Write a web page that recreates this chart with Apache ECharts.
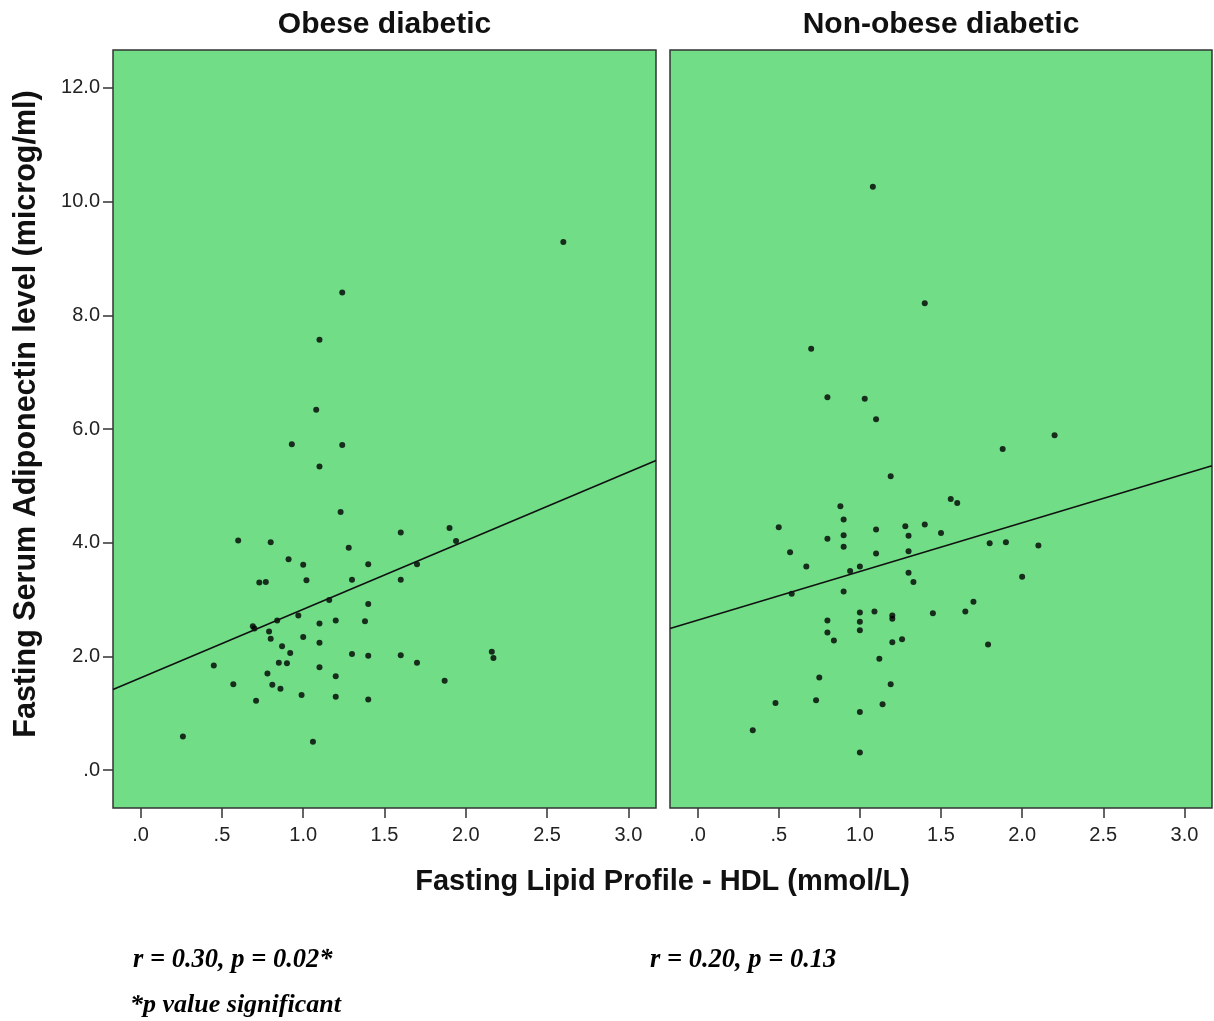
<!DOCTYPE html>
<html>
<head>
<meta charset="utf-8">
<script src="https://cdn.jsdelivr.net/npm/echarts@6/dist/echarts.min.js"></script>
<style>
html,body{margin:0;padding:0;background:#fff;}
#chart{width:1214px;height:1021px;}
</style>
</head>
<body>
<div id="chart"></div>
<script>
// ---- Data ----
const panelTitles = ['Obese diabetic', 'Non-obese diabetic'];
const xTicks = [0, 0.5, 1, 1.5, 2, 2.5, 3];
const xTickLabels = ['.0', '.5', '1.0', '1.5', '2.0', '2.5', '3.0'];
const yTicks = [0, 2, 4, 6, 8, 10, 12];
const yTickLabels = ['.0', '2.0', '4.0', '6.0', '8.0', '10.0', '12.0'];
const xRange = [-0.17, 3.17];
const yRange = [-0.667, 12.667];

const obeseHDL = [1.08,0.93,1.24,1.10,1.23,0.60,0.80,1.60,1.90,1.94,
                  1.28,0.91,1.00,1.40,1.70,0.73,0.77,1.02,1.30,1.60,
                  1.16,1.40,0.97,0.69,0.70,0.84,1.10,1.20,1.38,0.79,
                  0.80,1.00,1.10,0.87,0.92,1.30,1.40,1.60,1.70,2.16,
                  2.17,0.45,0.85,0.90,1.10,0.78,1.20,1.87,0.57,0.81,
                  0.86,0.99,1.20,1.40,0.71,0.26,1.06,2.60,1.24,1.10];
const obeseAdipo = [6.34,5.73,5.72,5.34,4.54,4.04,4.01,4.18,4.26,4.03,
                    3.91,3.71,3.61,3.62,3.62,3.30,3.31,3.34,3.35,3.35,
                    2.99,2.92,2.72,2.53,2.49,2.63,2.58,2.63,2.62,2.44,
                    2.31,2.34,2.24,2.18,2.06,2.04,2.01,2.02,1.89,2.08,
                    1.97,1.84,1.89,1.88,1.81,1.70,1.65,1.57,1.51,1.50,
                    1.43,1.32,1.29,1.24,1.22,0.59,0.50,9.29,8.40,7.57];
const nonObeseHDL = [0.80,1.03,1.10,2.20,1.88,1.19,1.56,1.60,0.88,0.90,
                     0.50,1.10,1.28,1.40,1.30,1.50,0.80,0.90,0.90,1.80,
                     1.90,2.10,0.57,1.10,1.30,0.67,0.94,1.00,1.30,1.33,
                     2.00,0.58,0.90,1.70,1.00,1.09,1.20,1.20,1.45,1.65,
                     0.80,1.00,1.00,0.80,0.84,1.20,1.26,1.79,1.12,0.75,
                     1.19,0.48,0.73,1.14,1.00,0.34,1.00,1.08,1.40,0.70];
const nonObeseAdipo = [6.56,6.53,6.17,5.89,5.65,5.17,4.77,4.70,4.64,4.41,
                       4.27,4.23,4.29,4.32,4.12,4.17,4.07,4.13,3.93,3.99,
                       4.01,3.95,3.83,3.81,3.85,3.58,3.50,3.58,3.47,3.31,
                       3.40,3.10,3.14,2.96,2.77,2.79,2.72,2.66,2.76,2.79,
                       2.63,2.61,2.46,2.42,2.28,2.25,2.30,2.21,1.96,1.63,
                       1.51,1.18,1.23,1.16,1.02,0.70,0.31,10.26,8.21,7.41];
// Fit lines: [intercept, slope]
const obeseFit = [1.622, 1.206];
const nonObeseFit = [2.637, 0.857];

const statsText = ['r = 0.30, p = 0.02*', 'r = 0.20, p = 0.13'];
const noteText = '*p value significant';
const xTitle = 'Fasting Lipid Profile - HDL (mmol/L)';
const yTitle = 'Fasting Serum Adiponectin level (microg/ml)';

// ---- Build ----
const zip = (a, b) => a.map((v, i) => [v, b[i]]);
const fitLine = f => [[xRange[0], f[0] + f[1] * xRange[0]], [xRange[1], f[0] + f[1] * xRange[1]]];
const SANS = '"Liberation Sans", Arial, sans-serif';
const SERIF = '"Liberation Serif", "Times New Roman", serif';
const GREEN = '#71DE87';

const gridsPos = [
  {left: 113, top: 50, width: 543, height: 758},
  {left: 670, top: 50, width: 542, height: 758}
];

function xAxis(i) {
  return {
    type: 'value', gridIndex: i, min: xRange[0], max: xRange[1], position: 'bottom',
    splitLine: {show: false},
    axisLine: {show: false, onZero: false},
    axisTick: {show: true, inside: false, customValues: xTicks, length: 10, lineStyle: {color: '#333', width: 1.5}},
    axisLabel: {customValues: xTicks, margin: 17, color: '#222', fontFamily: SANS, fontSize: 20,
      formatter: v => xTickLabels[xTicks.findIndex(t => Math.abs(t - v) < 1e-6)]}
  };
}
function yAxis(i) {
  const show = i === 0;
  return {
    type: 'value', gridIndex: i, min: yRange[0], max: yRange[1], position: 'left',
    splitLine: {show: false},
    axisLine: {show: false, onZero: false},
    axisTick: {show: show, inside: false, customValues: yTicks, length: 10, lineStyle: {color: '#333', width: 1.5}},
    axisLabel: {show: show, customValues: yTicks, margin: 13, color: '#222', fontFamily: SANS, fontSize: 20,
      formatter: v => yTickLabels[yTicks.findIndex(t => Math.abs(t - v) < 1e-6)]}
  };
}

const chart = echarts.init(document.getElementById('chart'), null, {renderer: 'canvas'});
const option = {
  backgroundColor: '#ffffff',
  animation: false,
  grid: gridsPos.map(g => Object.assign({show: true, backgroundColor: GREEN, borderColor: '#333', borderWidth: 1.5}, g)),
  xAxis: [xAxis(0), xAxis(1)],
  yAxis: [yAxis(0), yAxis(1)],
  series: [
    {type: 'scatter', xAxisIndex: 0, yAxisIndex: 0, data: zip(obeseHDL, obeseAdipo),
     symbol: 'circle', symbolSize: 6, itemStyle: {color: '#000'}},
    {type: 'scatter', xAxisIndex: 1, yAxisIndex: 1, data: zip(nonObeseHDL, nonObeseAdipo),
     symbol: 'circle', symbolSize: 6, itemStyle: {color: '#000'}},
    {type: 'line', xAxisIndex: 0, yAxisIndex: 0, data: fitLine(obeseFit), symbol: 'none',
     lineStyle: {color: '#111', width: 1.6}},
    {type: 'line', xAxisIndex: 1, yAxisIndex: 1, data: fitLine(nonObeseFit), symbol: 'none',
     lineStyle: {color: '#111', width: 1.6}}
  ],
  graphic: [
    {type: 'text', x: 384.5, y: 25, style: {text: panelTitles[0], fontFamily: SANS, fontWeight: 'bold', fontSize: 30, fill: '#111', align: 'center', verticalAlign: 'middle'}},
    {type: 'text', x: 941, y: 25, style: {text: panelTitles[1], fontFamily: SANS, fontWeight: 'bold', fontSize: 30, fill: '#111', align: 'center', verticalAlign: 'middle'}},
    {type: 'text', x: 662.5, y: 882, style: {text: xTitle, fontFamily: SANS, fontWeight: 'bold', fontSize: 29, fill: '#111', align: 'center', verticalAlign: 'middle'}},
    {type: 'text', x: 27, y: 414, rotation: Math.PI / 2, style: {text: yTitle, fontFamily: SANS, fontWeight: 'bold', fontSize: 30.5, fill: '#111', align: 'center', verticalAlign: 'middle'}},
    {type: 'text', x: 133, y: 960, style: {text: statsText[0], fontFamily: SERIF, fontWeight: 'bold', fontStyle: 'italic', fontSize: 26.5, fill: '#000', align: 'left', verticalAlign: 'middle'}},
    {type: 'text', x: 650, y: 960, style: {text: statsText[1], fontFamily: SERIF, fontWeight: 'bold', fontStyle: 'italic', fontSize: 26.5, fill: '#000', align: 'left', verticalAlign: 'middle'}},
    {type: 'text', x: 130, y: 1005, style: {text: noteText, fontFamily: SERIF, fontWeight: 'bold', fontStyle: 'italic', fontSize: 26, fill: '#000', align: 'left', verticalAlign: 'middle'}}
  ]
};
chart.setOption(option);
</script>
</body>
</html>
